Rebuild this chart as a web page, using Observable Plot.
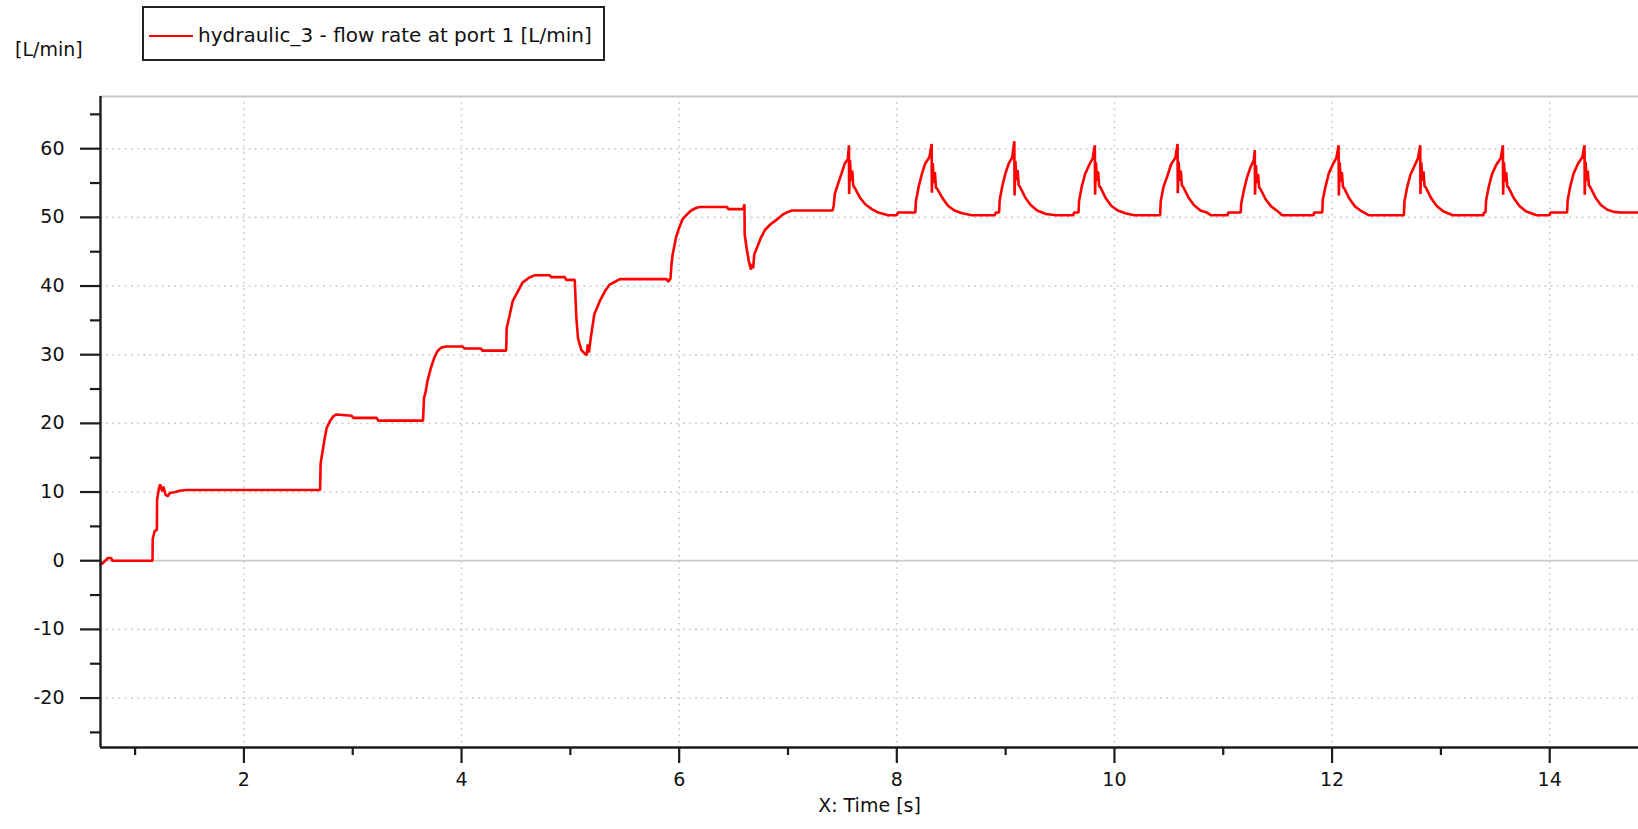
<!DOCTYPE html>
<html>
<head>
<meta charset="utf-8">
<script src="https://cdn.jsdelivr.net/npm/d3@7"></script>
<script src="https://cdn.jsdelivr.net/npm/@observablehq/plot@0.6"></script>
<style>
  html, body { margin: 0; padding: 0; background: #fff; }
  #wrap { position: relative; width: 1638px; height: 829px; overflow: hidden; font-family: "DejaVu Sans", sans-serif; }
  #legend { position: absolute; left: 142px; top: 6px; width: 459px; height: 51px; border: 2px solid #222; background: #fff; z-index: 2; }
  #legend .swatch { position: absolute; left: 5px; top: 27px; width: 44px; height: 2px; background: #ff0000; }
  #legend .label { position: absolute; left: 54px; top: 15px; font-size: 20px; color: #111; white-space: nowrap; line-height: 24px; }
  #unit { position: absolute; left: 15px; top: 37px; font-size: 19px; color: #111; line-height: 24px; z-index: 2; }
  #wrap svg { position: absolute; left: 0; top: 0; }
</style>
</head>
<body>
<div id="wrap">
  <div id="unit"></div>
  <div id="legend"><div class="swatch"></div><div class="label"></div></div>
</div>
<script>
// ---- texts ----
const seriesName = "hydraulic_3 - flow rate at port 1 [L/min]";
const yUnit = "[L/min]";
const xLabel = "X: Time [s]";

// ---- axes ----
const xDomain = [0.682, 14.816];
const yDomain = [-27.2, 67.6];
const xMajor = [2, 4, 6, 8, 10, 12, 14];
const xMinor = [1, 3, 5, 7, 9, 11, 13];
const yMajor = [-20, -10, 0, 10, 20, 30, 40, 50, 60];
const yMinor = [-25, -15, -5, 5, 15, 25, 35, 45, 55, 65];

// ---- series: time [s] ----
const timeS = [
  0.685, 0.71, 0.75, 0.78, 0.79, 1.16, 1.162, 1.18, 1.20, 1.202, 1.22, 1.23, 1.25, 1.26, 1.28, 1.30, 1.32, 1.37, 1.41, 1.47,
  2.70, 2.705, 2.74, 2.76, 2.79, 2.82, 2.85, 2.99, 3.005, 3.22, 3.235,
  3.646, 3.655, 3.67, 3.686, 3.717, 3.748, 3.778, 3.81, 3.855, 4.01, 4.025, 4.18, 4.19,
  4.41, 4.415, 4.44, 4.47, 4.52, 4.56, 4.62, 4.67, 4.81, 4.825, 4.95, 4.96,
  5.04, 5.055, 5.07, 5.10, 5.13, 5.15, 5.16, 5.17, 5.19, 5.22, 5.27, 5.32, 5.36, 5.42, 5.455, 5.886, 5.90,
  5.92, 5.93, 5.94, 5.97, 6.00, 6.03, 6.07, 6.11, 6.16, 6.19, 6.44, 6.45, 6.59,
  6.60, 6.602, 6.62, 6.64, 6.66, 6.67, 6.68, 6.69, 6.72, 6.75, 6.79, 6.84, 6.90, 6.95, 7.00, 7.04, 7.41,
  7.42, 7.43, 7.46, 7.49, 7.52, 7.55, 7.56, 7.562, 7.57, 7.58, 7.59, 7.60, 7.61, 7.66, 7.71, 7.77, 7.83, 7.92, 8.00, 8.01,
  8.17, 8.175, 8.20, 8.23, 8.26, 8.30, 8.32, 8.322, 8.33, 8.34, 8.35, 8.36, 8.37, 8.42, 8.47, 8.53, 8.60, 8.69, 8.90, 8.91,
  8.94, 8.945, 8.97, 9.00, 9.03, 9.06, 9.08, 9.082, 9.09, 9.10, 9.11, 9.12, 9.13, 9.18, 9.23, 9.29, 9.37, 9.46, 9.62, 9.63,
  9.67, 9.675, 9.70, 9.73, 9.77, 9.80, 9.82, 9.822, 9.83, 9.84, 9.85, 9.86, 9.87, 9.92, 9.97, 10.03, 10.10, 10.18,
  10.42, 10.425, 10.45, 10.49, 10.52, 10.56, 10.58, 10.582, 10.59, 10.60, 10.61, 10.62, 10.63, 10.68, 10.73, 10.79, 10.85, 10.89, 11.04, 11.045,
  11.16, 11.165, 11.19, 11.22, 11.25, 11.28, 11.29, 11.292, 11.30, 11.31, 11.32, 11.33, 11.34, 11.39, 11.44, 11.50, 11.54, 11.83, 11.835,
  11.91, 11.915, 11.94, 11.97, 12.01, 12.04, 12.06, 12.062, 12.07, 12.08, 12.09, 12.10, 12.11, 12.16, 12.21, 12.27, 12.34,
  12.66, 12.665, 12.69, 12.72, 12.76, 12.79, 12.81, 12.812, 12.82, 12.83, 12.84, 12.85, 12.86, 12.91, 12.96, 13.02, 13.11, 13.39, 13.395,
  13.41, 13.415, 13.44, 13.47, 13.51, 13.55, 13.57, 13.572, 13.58, 13.59, 13.60, 13.61, 13.62, 13.67, 13.72, 13.78, 13.88, 14.00, 14.005,
  14.16, 14.165, 14.19, 14.22, 14.26, 14.30, 14.32, 14.322, 14.33, 14.34, 14.35, 14.36, 14.37, 14.42, 14.47, 14.53, 14.59, 14.65, 14.82
];

// ---- series: flow rate at port 1 [L/min] ----
const flowLmin = [
  -0.55, -0.24, 0.39, 0.39, 0.0, 0.0, 3.2, 4.3, 4.5, 8.9, 10.6, 11.1, 10.1, 10.8, 9.6, 9.4, 9.85, 10.0, 10.2, 10.3,
  10.3, 14.2, 17.6, 19.3, 20.3, 21.0, 21.3, 21.1, 20.8, 20.8, 20.4,
  20.4, 23.7, 24.6, 26.1, 28.0, 29.5, 30.5, 31.0, 31.2, 31.2, 30.9, 30.9, 30.6,
  30.6, 33.9, 35.6, 37.8, 39.3, 40.5, 41.2, 41.56, 41.56, 41.3, 41.3, 40.9,
  40.9, 35.4, 32.4, 30.7, 30.2, 29.9, 31.5, 30.3, 32.7, 35.9, 37.8, 39.3, 40.2, 40.7, 41.0, 41.0, 40.6,
  41.1, 43.3, 44.6, 47.0, 48.5, 49.7, 50.4, 51.0, 51.4, 51.5, 51.5, 51.2, 51.2,
  51.9, 47.5, 45.5, 43.6, 42.4, 43.2, 42.6, 44.6, 45.8, 47.0, 48.2, 49.0, 49.7, 50.4, 50.8, 51.0, 51.0,
  51.7, 53.4, 54.9, 56.3, 57.8, 58.5, 60.5, 53.4, 58.3, 55.3, 56.8, 54.6, 54.4, 52.9, 51.9, 51.2, 50.7, 50.3, 50.3, 50.7,
  50.7, 52.3, 54.4, 56.3, 57.8, 58.8, 60.7, 53.6, 57.9, 55.0, 56.6, 54.3, 54.2, 52.8, 51.7, 51.0, 50.6, 50.3, 50.3, 50.7,
  50.7, 52.5, 54.6, 56.5, 57.9, 58.7, 61.1, 53.2, 58.2, 55.4, 56.9, 54.7, 54.5, 52.9, 51.8, 51.0, 50.5, 50.3, 50.3, 50.7,
  50.7, 52.4, 54.5, 56.3, 57.7, 58.6, 60.5, 53.3, 58.0, 55.3, 56.7, 54.5, 54.4, 52.8, 51.7, 51.0, 50.6, 50.3,
  50.3, 52.3, 54.4, 56.2, 57.7, 58.7, 60.7, 53.5, 58.1, 55.3, 56.8, 54.6, 54.5, 52.9, 51.8, 51.0, 50.7, 50.3, 50.3, 50.7,
  50.7, 52.0, 54.0, 55.9, 57.3, 58.3, 59.8, 53.3, 57.6, 55.0, 56.3, 54.3, 54.2, 52.6, 51.6, 50.9, 50.3, 50.3, 50.7,
  50.7, 52.6, 54.5, 56.4, 57.8, 58.7, 60.5, 53.2, 58.0, 55.2, 56.6, 54.4, 54.3, 52.7, 51.6, 50.9, 50.3,
  50.3, 52.3, 54.4, 56.2, 57.6, 58.6, 60.5, 53.4, 58.0, 55.3, 56.7, 54.5, 54.4, 52.8, 51.7, 50.9, 50.3, 50.3, 50.7,
  50.7, 52.4, 54.5, 56.3, 57.7, 58.6, 60.5, 53.3, 58.0, 55.2, 56.6, 54.5, 54.4, 52.8, 51.7, 50.9, 50.3, 50.3, 50.7,
  50.7, 52.5, 54.6, 56.4, 57.8, 58.8, 60.5, 53.3, 58.1, 55.3, 56.8, 54.6, 54.5, 52.9, 51.8, 51.1, 50.8, 50.7, 50.7
];

const points = timeS.map((t, i) => ({t, q: flowLmin[i]}));

document.getElementById("unit").textContent = yUnit;
document.querySelector("#legend .label").textContent = seriesName;

const gridStyle = {stroke: "#c4c4c4", strokeOpacity: 1, strokeWidth: 1.6, strokeDasharray: "1.6,4.6"};
const axisColor = "#1c1c1c";
const noLabel = () => "";
const plainNumber = d => String(d);

const chart = Plot.plot({
  width: 1638,
  height: 829,
  marginLeft: 100,
  marginRight: 0,
  marginTop: 96,
  marginBottom: 82,
  x: {domain: xDomain},
  y: {domain: yDomain},
  style: {fontFamily: "DejaVu Sans, sans-serif", fontSize: "19px", color: "#111", background: "#fff", overflow: "visible"},
  marks: [
    Plot.gridX(xMajor, gridStyle),
    Plot.gridY(yMajor.filter(v => v !== 0), gridStyle),
    Plot.ruleY([0], {stroke: "#cfcfcf", strokeWidth: 2}),
    Plot.ruleY([yDomain[1]], {stroke: "#c8c8c8", strokeWidth: 2}),
    Plot.line(points, {x: "t", y: "q", stroke: "#ff0000", strokeWidth: 2.6, strokeLinejoin: "miter"}),
    Plot.ruleX([xDomain[0]], {stroke: axisColor, strokeWidth: 2.4}),
    Plot.ruleY([yDomain[0]], {stroke: axisColor, strokeWidth: 2.4}),
    Plot.axisY(yMajor, {tickSize: 20, tickPadding: 16, tickFormat: plainNumber, stroke: axisColor, strokeWidth: 2.2, label: null, fill: "#111"}),
    Plot.axisY(yMinor, {tickSize: 10, tickFormat: noLabel, stroke: axisColor, strokeWidth: 2.2, label: null}),
    Plot.axisX(xMajor, {tickSize: 16, tickPadding: 9, tickFormat: plainNumber, stroke: axisColor, strokeWidth: 2.2, label: null, fill: "#111"}),
    Plot.axisX(xMinor, {tickSize: 8, tickFormat: noLabel, stroke: axisColor, strokeWidth: 2.2, label: null}),
    Plot.text([xLabel], {frameAnchor: "bottom", dy: 64, text: d => d, fontSize: 19, fill: "#111"})
  ]
});

document.getElementById("wrap").appendChild(chart);
</script>
</body>
</html>
